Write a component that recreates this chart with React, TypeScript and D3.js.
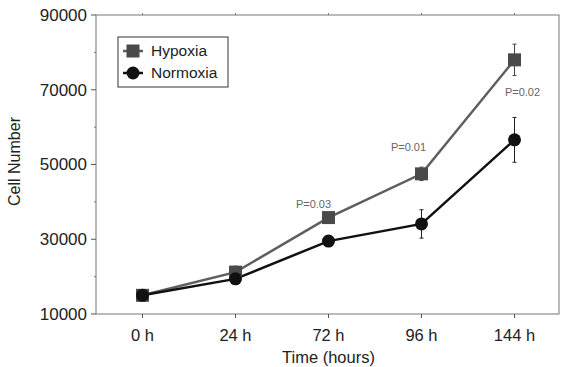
import * as d3 from 'd3';
import React from 'react';

const times = ['0 h', '24 h', '72 h', '96 h', '144 h'];
const hypoxia = [15000, 21200, 35800, 47500, 78000];
const hypoxiaErr = [800, 1600, 1000, 1800, 4200];
const normoxia = [15000, 19400, 29500, 34100, 56600];
const normoxiaErr = [800, 900, 900, 3800, 6000];
const pLabels = [
  { i: 2, text: 'P=0.03', dx: -15, dy: -10 },
  { i: 3, text: 'P=0.01', dx: -13, dy: -23 },
  { i: 4, text: 'P=0.02', dx: 8, dy: 36 },
];
const yTicks = [10000, 30000, 50000, 70000, 90000];
const yMinor = [20000, 40000, 60000, 80000];

const App = () => {
  const width = 564;
  const height = 367;
  const margin = { top: 15, right: 3, bottom: 53, left: 96 };
  const innerW = width - margin.left - margin.right;
  const innerH = height - margin.top - margin.bottom;

  const x = d3.scaleBand().domain(times).range([0, innerW]);
  const y = d3.scaleLinear().domain([10000, 90000]).range([innerH, 0]);
  const cx = (t: string) => (x(t) ?? 0) + x.bandwidth() / 2;

  const line = d3
    .line<number>()
    .x((_, i) => cx(times[i]))
    .y((d) => y(d));

  const hypColor = '#5e5e5e';
  const font = 'Arial, "Liberation Sans", sans-serif';

  const errBars = (vals: number[], errs: number[], color: string) =>
    vals.map((v, i) => (
      <g key={i} stroke={color} strokeWidth={1}>
        <line x1={cx(times[i])} x2={cx(times[i])} y1={y(v + errs[i])} y2={y(v - errs[i])} />
        <line x1={cx(times[i]) - 2} x2={cx(times[i]) + 2} y1={y(v + errs[i])} y2={y(v + errs[i])} />
        <line x1={cx(times[i]) - 2} x2={cx(times[i]) + 2} y1={y(v - errs[i])} y2={y(v - errs[i])} />
      </g>
    ));

  return (
    <svg width={width} height={height} style={{ position: 'absolute', left: 0, top: 0, background: '#fff' }} fontFamily={font}>
      <g transform={`translate(${margin.left},${margin.top})`}>
        {/* frame */}
        <rect x={0} y={0} width={innerW - 2} height={innerH} fill="none" stroke="#777" strokeWidth={1} />
        {/* y ticks */}
        {yTicks.map((t) => (
          <g key={t} transform={`translate(0,${y(t)})`}>
            <line x1={-5} x2={0} stroke="#555" />
            <text x={-9} dy="0.35em" textAnchor="end" fontSize={17} fill="#222">
              {t}
            </text>
          </g>
        ))}
        {yMinor.map((t) => (
          <line key={t} x1={-2} x2={0} y1={y(t)} y2={y(t)} stroke="#777" />
        ))}
        {/* x ticks */}
        {times.map((t) => (
          <g key={t} transform={`translate(${cx(t)},0)`}>
            <line y1={innerH} y2={innerH + 4} stroke="#555" />
            <line y1={0} y2={-2} stroke="#777" />
            <text y={innerH + 21} dy="0.35em" textAnchor="middle" fontSize={16.5} fill="#222">
              {t}
            </text>
          </g>
        ))}
        <text x={innerW / 2} y={innerH + 43} dy="0.35em" textAnchor="middle" fontSize={16.5} fill="#222">
          Time (hours)
        </text>
        <text transform={`translate(-82,${innerH / 2 - 3}) rotate(-90)`} dy="0.35em" textAnchor="middle" fontSize={16} fill="#222">
          Cell Number
        </text>

        {/* error bars */}
        {errBars(hypoxia, hypoxiaErr, '#444')}
        {errBars(normoxia, normoxiaErr, '#222')}

        {/* lines */}
        <path d={line(hypoxia) ?? ''} fill="none" stroke={hypColor} strokeWidth={2.5} />
        <path d={line(normoxia) ?? ''} fill="none" stroke="#111" strokeWidth={2.5} />

        {/* markers */}
        {hypoxia.map((v, i) => (
          <rect key={i} x={cx(times[i]) - 6.5} y={y(v) - 6.5} width={13} height={13} fill="#4a4a4a" />
        ))}
        {normoxia.map((v, i) => (
          <circle key={i} cx={cx(times[i])} cy={y(v)} r={6.5} fill="#111" />
        ))}

        {/* p-values */}
        {pLabels.map((p) => (
          <text key={p.text} x={cx(times[p.i]) + p.dx} y={y(hypoxia[p.i]) + p.dy + 0.5} textAnchor="middle" fontSize={11} fill="#666">
            {p.text}
          </text>
        ))}

        {/* legend */}
        <g transform="translate(22,22)">
          <rect x={0} y={0} width={110} height={50} fill="#fff" stroke="#333" strokeWidth={1} />
          <line x1={5} x2={25} y1={14} y2={14} stroke={hypColor} strokeWidth={2.5} />
          <rect x={8.5} y={7.5} width={13} height={13} fill="#4a4a4a" />
          <text x={33} y={14} dy="0.35em" fontSize={15.5} fill="#222">
            Hypoxia
          </text>
          <line x1={5} x2={25} y1={36} y2={36} stroke="#111" strokeWidth={2.5} />
          <circle cx={15} cy={36} r={6.5} fill="#111" />
          <text x={33} y={36} dy="0.35em" fontSize={15.5} fill="#222">
            Normoxia
          </text>
        </g>
      </g>
    </svg>
  );
};

export default App;
